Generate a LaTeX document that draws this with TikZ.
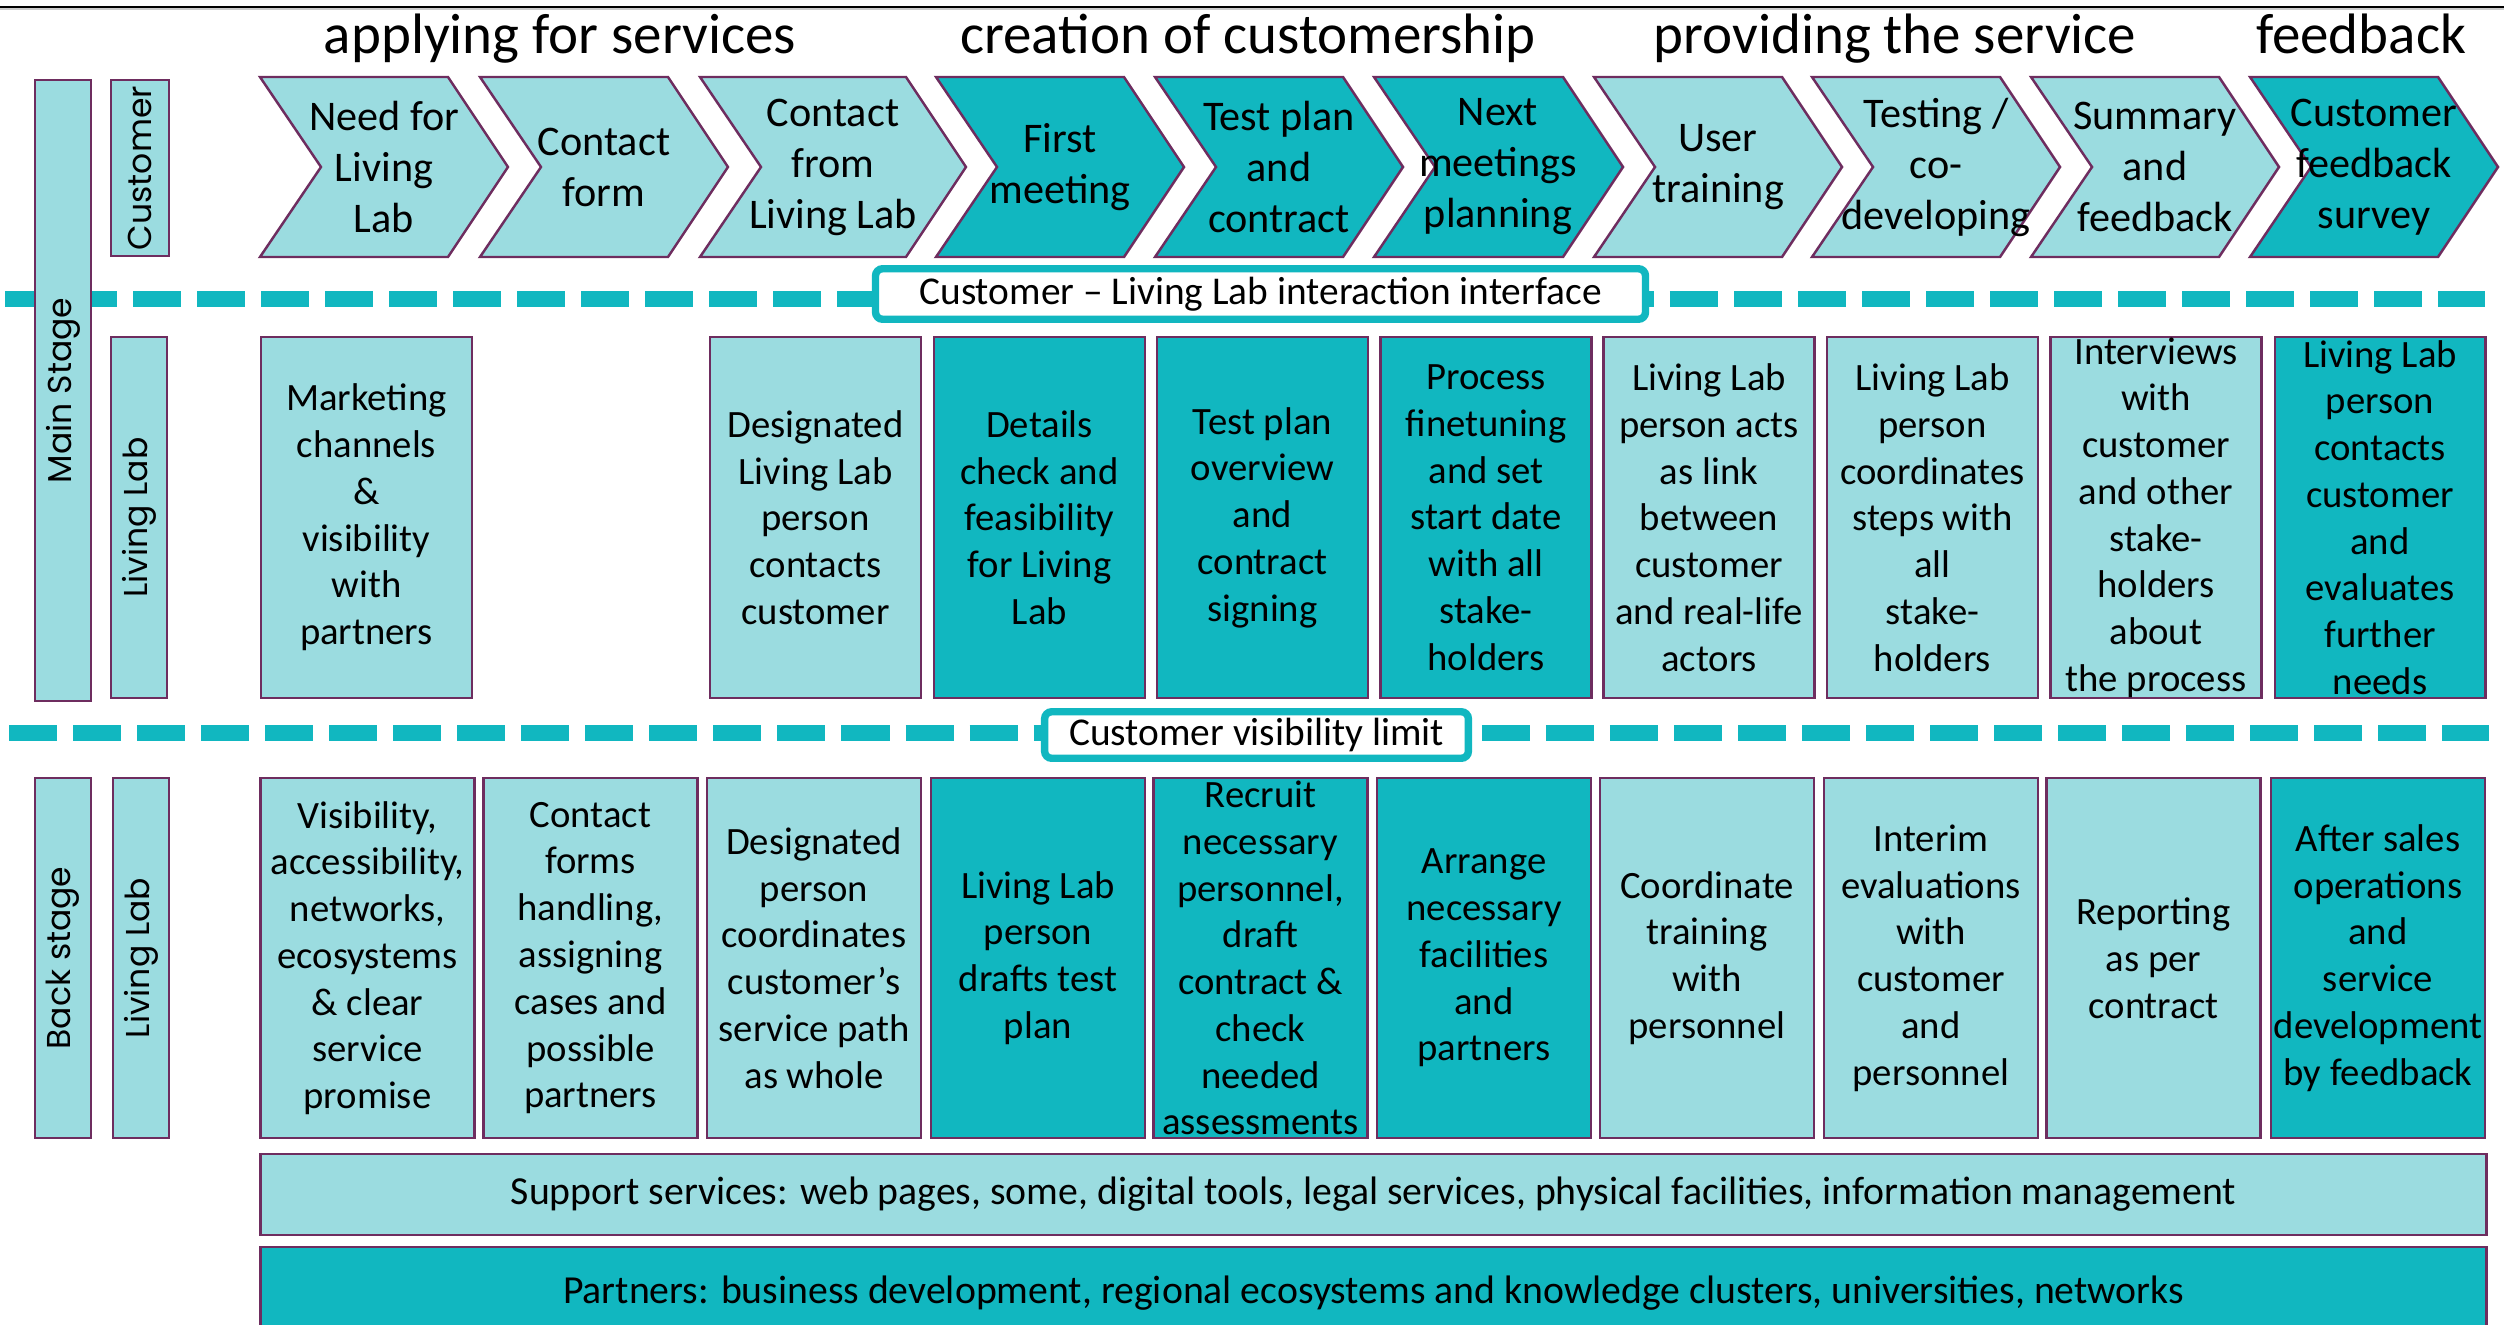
\documentclass[tikz,border=0pt]{standalone}
\usepackage{fontspec}
\setmainfont{Carlito}
\newfontfamily\sidefont{Poppins}

\definecolor{lightteal}{RGB}{155,220,224}
\definecolor{darkteal}{RGB}{17,183,192}
\definecolor{plum}{RGB}{110,45,95}

\begin{document}
\begin{tikzpicture}[x=0.01cm, y=-0.01cm]
  \tikzstyle{title} = [font=\fontsize{16.2}{19}\selectfont, anchor=base, inner sep=0pt]
  \tikzstyle{chev} = [draw=plum, line width=0.7pt]
  \tikzstyle{chevtext} = [align=center, inner sep=0pt, font=\fontsize{12}{14.5}\selectfont]
  \tikzstyle{block} = [draw=plum, line width=0.7pt, rectangle, align=center, inner sep=0pt, font=\fontsize{11}{13.3}\selectfont]
  \tikzstyle{mid} = [block, minimum width=2.105cm, minimum height=3.605cm]
  \tikzstyle{back} = [block, minimum width=2.135cm, minimum height=3.595cm]
  \tikzstyle{wide} = [block, minimum width=22.245cm, font=\fontsize{11.3}{13}\selectfont]
  \tikzstyle{sidebar} = [draw=plum, line width=0.7pt, fill=lightteal, rotate=90, inner sep=0pt, font=\sidefont\fontsize{9.4}{11}\selectfont]
  \tikzstyle{limit} = [draw=darkteal, line width=2.1pt, fill=white, rounded corners=2pt, inner sep=0pt, font=\fontsize{11.2}{13}\selectfont]
  \tikzstyle{sepline} = [draw=darkteal, line width=4.5pt, dash pattern=on 0.48cm off 0.16cm]

  \useasboundingbox (0,0) rectangle (2504,1324);

  % top rule
  \coordinate (topL) at (0,7);
  \coordinate (topR) at (2504,7);
  \draw[line width=0.5pt] (topL) -- (topR);
  \draw[gray!40, line width=0.5pt] ([yshift=-0.6pt]topL) -- ([yshift=-0.6pt]topR);

  % phases
  \node[title] (applying) at (560,53) {applying for services};
  \node[title] (creation) at (1248,53) {creation of customership};
  \node[title] (providing) at (1895,53) {providing the service};
  \node[title] (feedback) at (2361,53) {feedback};

  % dashed limits
  \coordinate (ifL) at (5,299);
  \coordinate (ifR) at (2485,299);
  \coordinate (visL) at (9,733);
  \coordinate (visR) at (2489,733);
  \draw[sepline] (ifL) -- (ifR);
  \draw[sepline] (visL) -- (visR);

  % side bars
  \node[sidebar, minimum width=6.205cm, minimum height=0.555cm] (mainstage) at (63,390.5) {Main Stage};
  \node[sidebar, minimum width=1.755cm, minimum height=0.575cm] (customer) at (140,168) {Customer};
  \node[sidebar, minimum width=3.605cm, minimum height=0.555cm] (midlab) at (139,517.5) {Living Lab};
  \node[sidebar, minimum width=3.595cm, minimum height=0.555cm] (backstage) at (63,958) {Back stage};
  \node[sidebar, minimum width=3.595cm, minimum height=0.555cm] (backlab) at (141,958) {Living Lab};

  % customer chevrons
  \foreach \x/\w/\c in {260/188/lightteal, 480/188/lightteal, 700/206/lightteal, 936/188/darkteal, 1155/188/darkteal,
                        1374/189/darkteal, 1594/188/lightteal, 1812/188/lightteal, 2031/188/lightteal, 2250/188/darkteal}
    \draw[chev, fill=\c] (\x,77) -- ++(\w,0) -- ++(60,90) -- ++(-60,90) -- ++(-\w,0) -- ++(61,-90) -- cycle;

  \node[chevtext] (need) at (384,167) {Need for\\Living\\Lab};
  \node[chevtext] (form) at (604,167) {Contact\\form};
  \node[chevtext] (contact) at (833,167) {Contact\\from\\Living Lab};
  \node[chevtext] (first) at (1060,167) {First\\meeting};
  \node[chevtext] (plan) at (1279,167) {Test plan\\and\\contract};
  \node[chevtext] (next) at (1498,167) {Next\\meetings\\planning};
  \node[chevtext] (training) at (1718,167) {User\\training};
  \node[chevtext] (testing) at (1936,167) {Testing /\\co-\\developing};
  \node[chevtext] (summary) at (2155,167) {Summary\\and\\feedback};
  \node[chevtext] (survey) at (2374,167) {Customer\\feedback\\survey};

  \node[limit, minimum width=7.695cm, minimum height=0.505cm] (interface) at (1260.5,294) {Customer -- Living Lab interaction interface};

  % living lab, main stage
  \node[mid, fill=lightteal] (marketing) at (366.5,517.5) {Marketing\\channels\\\&\\visibility\\with\\partners};
  \node[mid, fill=lightteal] (designated) at (815.5,517.5) {Designated\\Living Lab\\person\\contacts\\customer};
  \node[mid, fill=darkteal] (details) at (1039.5,517.5) {Details\\check and\\feasibility\\for Living\\Lab};
  \node[mid, fill=darkteal] (overview) at (1262.5,517.5) {Test plan\\overview\\and\\contract\\signing};
  \node[mid, fill=darkteal] (finetune) at (1486,517.5) {Process\\finetuning\\and set\\start date\\with all\\stake-\\holders};
  \node[mid, fill=lightteal] (link) at (1709,517.5) {Living Lab\\person acts\\as link\\between\\customer\\and real-life\\actors};
  \node[mid, fill=lightteal] (steps) at (1932.5,517.5) {Living Lab\\person\\coordinates\\steps with\\all\\stake-\\holders};
  \node[mid, fill=lightteal] (interviews) at (2156,517.5) {Interviews\\with\\customer\\and other\\stake-\\holders\\about\\the process};
  \node[mid, fill=darkteal] (evaluates) at (2380,517.5) {Living Lab\\person\\contacts\\customer\\and\\evaluates\\further\\needs};

  \node[limit, minimum width=4.235cm, minimum height=0.465cm] (visibility) at (1256.5,735) {Customer visibility limit};

  % living lab, back stage
  \node[back, fill=lightteal] (promise) at (367.5,958) {Visibility,\\accessibility,\\networks,\\ecosystems\\\& clear\\service\\promise};
  \node[back, fill=lightteal] (handling) at (590.5,958) {Contact\\forms\\handling,\\assigning\\cases and\\possible\\partners};
  \node[back, fill=lightteal] (path) at (814,958) {Designated\\person\\coordinates\\customer’s\\service path\\as whole};
  \node[back, fill=darkteal] (drafts) at (1038,958) {Living Lab\\person\\drafts test\\plan};
  \node[back, fill=darkteal] (recruit) at (1260.5,958) {Recruit\\necessary\\personnel,\\draft\\contract \&\\check\\needed\\assessments};
  \node[back, fill=darkteal] (arrange) at (1484,958) {Arrange\\necessary\\facilities\\and\\partners};
  \node[back, fill=lightteal] (coordinate) at (1707,958) {Coordinate\\training\\with\\personnel};
  \node[back, fill=lightteal] (interim) at (1931,958) {Interim\\evaluations\\with\\customer\\and\\personnel};
  \node[back, fill=lightteal] (reporting) at (2153.5,958) {Reporting\\as per\\contract};
  \node[back, fill=darkteal] (aftersales) at (2378,958) {After sales\\operations\\and\\service\\development\\by feedback};

  % support and partners
  \node[wide, fill=lightteal, minimum height=0.805cm] (support) at (1373.5,1194.5) {Support services: web pages, some, digital tools, legal services, physical facilities, information management};
  \node[wide, fill=darkteal, minimum height=0.915cm] (partners) at (1373.5,1293) {Partners: business development, regional ecosystems and knowledge clusters, universities, networks};
\end{tikzpicture}
\end{document}
